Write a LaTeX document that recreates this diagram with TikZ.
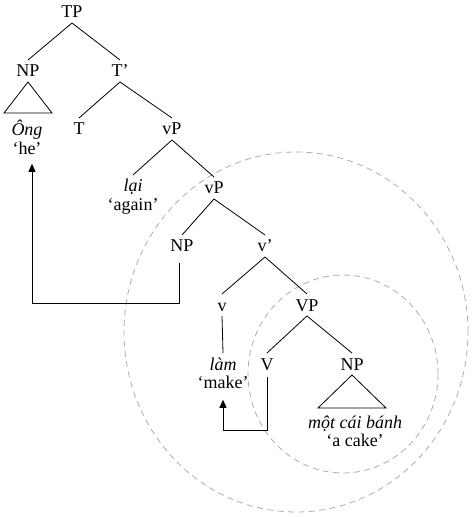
\documentclass[tikz,border=0pt]{standalone}
\usepackage{fontspec}
\setmainfont{Liberation Serif}
\usetikzlibrary{positioning}
\usetikzlibrary{arrows.meta}

\begin{document}
\begin{tikzpicture}[x=0.5pt,y=-0.5pt,>={Triangle[length=4pt,width=3.5pt]},
    cat/.style={inner sep=2.3pt,text height=6pt,text depth=0pt,font=\fontsize{9}{10}\selectfont},
    lex/.style={cat,font=\fontsize{9}{10}\selectfont\itshape},
    ring/.style={gray!65,dash pattern=on 3pt off 2.2pt}]
                        \useasboundingbox (0,0) rectangle (472,517);
                        % domains
                        \draw[ring] (296,332) ellipse [x radius=86pt,y radius=90pt];
                        \draw[ring] (343,374) ellipse [x radius=47.5pt,y radius=49.5pt];
                        % labels
                        \node[cat] (TP) at (72,12) {TP};
                        \node[cat] (NPa) at (28,71) {NP};
                        \node[cat] (Tbar) at (120,71) {T’};
                        \node[lex] (Ong) at (27,130) {Ông};
                        \node[cat,below=-1.6pt of Ong] (he) {‘he’};
                        \node[cat] (T) at (79,129) {T};
                        \node[cat] (vPa) at (172,129) {vP};
                        \node[lex] (lai) at (133,186) {lại};
                        \node[cat,below=-1.6pt of lai] (again) {‘again’};
                        \node[cat] (vPb) at (214,188) {vP};
                        \node[cat] (NPb) at (182,246) {NP};
                        \node[cat] (vbar) at (265,246) {v’};
                        \node[cat] (v) at (222,305) {v};
                        \node[cat] (VP) at (307,305) {VP};
                        \node[lex] (lam) at (223,364) {làm};
                        \node[cat,below=-1.6pt of lam] (make) {‘make’};
                        \node[cat] (V) at (267,364) {V};
                        \node[cat] (NPc) at (352,364) {NP};
                        \node[lex] (banh) at (355,422) {một cái bánh};
                        \node[cat,below=-1.6pt of banh] (cake) {‘a cake’};
                        % branches
                        \draw (TP.south) -- (NPa.north);
                        \draw (TP.south) -- (Tbar.north);
                        \draw (Tbar.south) -- (T.north);
                        \draw (Tbar.south) -- (vPa.north);
                        \draw (vPa.south) -- (lai.north);
                        \draw (vPa.south) -- (vPb.north);
                        \draw (vPb.south) -- (NPb.north);
                        \draw (vPb.south) -- (vbar.north);
                        \draw (vbar.south) -- (v.north);
                        \draw (vbar.south) -- (VP.north);
                        \draw (VP.south) -- (V.north);
                        \draw (VP.south) -- (NPc.north);
                        \draw (v.south) -- (lam.north);
                        \draw (NPa.south) -- ++(-24,31) -- ++(48,0) -- cycle;
                        \draw (NPc.south) -- ++(-34,33) -- ++(68,0) -- cycle;
                        % movement
                        \draw[->] ([xshift=-1.5pt,yshift=-3pt]NPb.south) -- ++(0,40) -| ([xshift=2.5pt,yshift=-2pt]he.south);
                        \draw[->] ([yshift=-1pt]V.south) -- ++(0,53) -| ([yshift=-3pt]make.south);
                    \end{tikzpicture}
\end{document}
